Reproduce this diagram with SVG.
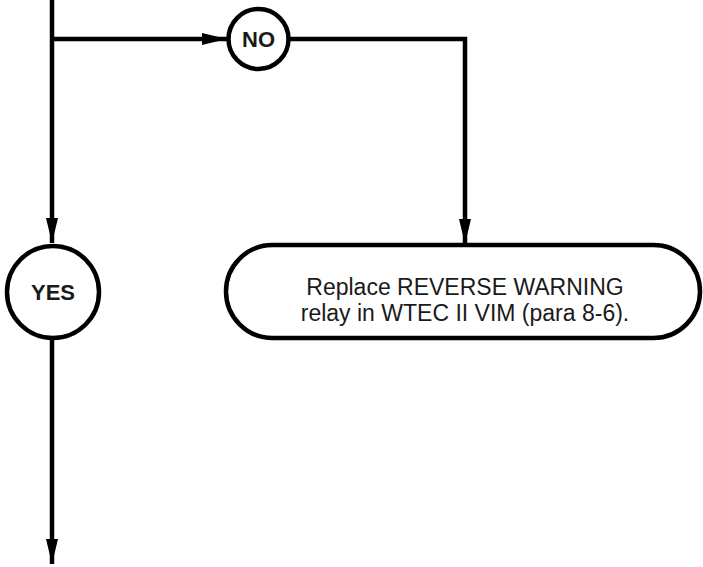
<svg xmlns="http://www.w3.org/2000/svg" width="703" height="567" viewBox="0 0 703 567">
<style>
.ln{fill:none;stroke:#000;stroke-width:4.5}
.nd{fill:#fff;stroke:#000;stroke-width:4.5}
.lb{font-family:"Liberation Sans",Arial,sans-serif;font-weight:bold;font-size:22px;text-anchor:middle;fill:#1a1a1a}
.tx{font-family:"Liberation Sans",Arial,sans-serif;font-size:23px;text-anchor:middle;fill:#1a1a1a}
</style>
<defs>
<marker id="ah" markerWidth="25" markerHeight="12" refX="25" refY="6" orient="auto" markerUnits="userSpaceOnUse">
<path d="M0,0 L25,6 L0,12 Z" fill="#000"/>
</marker>
</defs>
<g id="connectors">
<path class="ln" d="M52,0 V243" marker-end="url(#ah)"/>
<path class="ln" d="M52,39 H227" marker-end="url(#ah)"/>
<path class="ln" d="M289,39 H465 V244" marker-end="url(#ah)"/>
<path class="ln" d="M52,339 V564" marker-end="url(#ah)"/>
</g>
<g id="no">
<circle class="nd" cx="258.5" cy="39" r="30"/>
<text class="lb" x="258.5" y="47">NO</text>
</g>
<g id="yes">
<circle class="nd" cx="53" cy="292" r="46"/>
<text class="lb" x="53" y="300">YES</text>
</g>
<g id="replace">
<rect class="nd" x="226" y="245" width="474" height="93" rx="46.5" ry="46.5"/>
<text class="tx" x="465" y="295">Replace REVERSE WARNING</text>
<text class="tx" x="465" y="321">relay in WTEC II VIM (para 8-6).</text>
</g>
</svg>
